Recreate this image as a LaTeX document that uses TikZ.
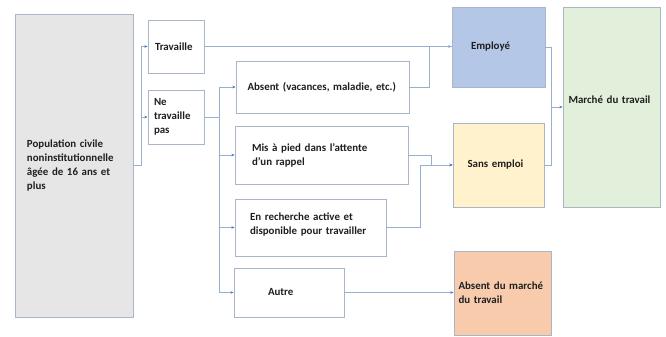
\documentclass[tikz,border=0pt]{standalone}
\usepackage{fontspec}
\setmainfont{Carlito}
\usepackage{xcolor}
\definecolor{boxline}{RGB}{168,182,200}
\definecolor{linkblue}{RGB}{150,177,208}
\definecolor{tipblue}{RGB}{79,120,180}
\definecolor{popgray}{RGB}{231,230,230}
\definecolor{empblue}{RGB}{180,199,231}
\definecolor{sansyellow}{RGB}{255,242,204}
\definecolor{amtorange}{RGB}{248,203,173}
\definecolor{marchegreen}{RGB}{226,239,218}
\usepackage{tikz}
\usetikzlibrary{arrows.meta,positioning,calc}
\hyphenpenalty=10000
\exhyphenpenalty=10000

\begin{document}
\begin{tikzpicture}[x=1pt, y=-1pt,
  box/.style={draw=boxline, line width=0.9pt, fill=white, inner sep=0pt,
    align=left, text=black!88, font=\fontsize{10.9}{14}\selectfont\bfseries},
  link/.style={draw=linkblue, line width=0.8pt},
  arrowlink/.style={link, -{Stealth[length=3.2pt, width=2.6pt, color=tipblue]}}]

\useasboundingbox (0,0) rectangle (666,337);

% Population
\node[box, fill=popgray, minimum width=118pt, minimum height=303pt, text width=94pt]
  (pop) at (74,165.5) {Population civile\\noninstitutionnelle\\âgée de 16 ans et\\plus};

% Travaille / ne travaille pas
\node[box, minimum width=56pt, minimum height=53pt, text width=42pt]
  (trav) at (176,46.5) {Travaille};
\node[box, minimum width=56pt, minimum height=54pt, text width=44pt]
  (ntp) at (176,117) {Ne\\travaille\\pas};

% Situations
\node[box, minimum width=173pt, minimum height=52pt, text width=150pt]
  (abs) at (322.5,87) {Absent (vacances, maladie, etc.)};
\node[box, minimum width=173pt, minimum height=58pt, text width=139pt]
  (mis) at (321.5,155) {Mis à pied dans l'attente\\d'un rappel};
\node[box, minimum width=151pt, minimum height=57pt, text width=121pt]
  (rech) at (310.5,227.5) {En recherche active et\\disponible pour travailler\\[-6pt]\mbox{}};
\node[box, minimum width=110pt, minimum height=49pt, text width=42pt]
  (autre) at (289,292.5) {Autre};

% Statuts
\node[box, fill=empblue, minimum width=93pt, minimum height=80pt, text width=55pt]
  (emp) at (498.5,47) {Employé};
\node[box, fill=sansyellow, minimum width=91pt, minimum height=84pt, text width=62pt]
  (sans) at (498.5,165) {Sans emploi};
\node[box, fill=amtorange, minimum width=97pt, minimum height=84pt, text width=88pt]
  (amt) at (502.5,293) {Absent du marché\\du travail};
\node[box, fill=marchegreen, minimum width=97pt, minimum height=200pt, text width=86pt]
  (marche) at (611.5,107) {Marché du travail\\\mbox{}};

% Connectors
\draw[arrowlink] (pop.east) -- ++(8,0) |- (trav.west);
\draw[arrowlink] (pop.east) -- ++(8,0) |- (ntp.west);

\draw[arrowlink] (ntp.east) -- ++(15,0) |- (abs.west);
\draw[arrowlink] (ntp.east) -- ++(15,0) |- (mis.west);
\draw[arrowlink] (ntp.east) -- ++(15,0) |- (rech.west);
\draw[arrowlink] (ntp.east) -- ++(15,0) |- (autre.west);

\draw[arrowlink] (trav.east) -- (trav.east -| emp.west);
\draw[link] (abs.east) -- ++(20,0) |- (trav.east -| emp.west);

\draw[arrowlink] (mis.east) -- ++(23,0) |- (sans.west);
\draw[arrowlink] (rech.east) -- ++(34,0) |- (sans.west);

\draw[arrowlink] (autre.east) -- (autre.east -| amt.west);

\draw[link] (emp.east) -- ++(6,0) coordinate (mj) |- (sans.east);
\draw[arrowlink] (mj |- marche.west) -- (marche.west);

\end{tikzpicture}
\end{document}
